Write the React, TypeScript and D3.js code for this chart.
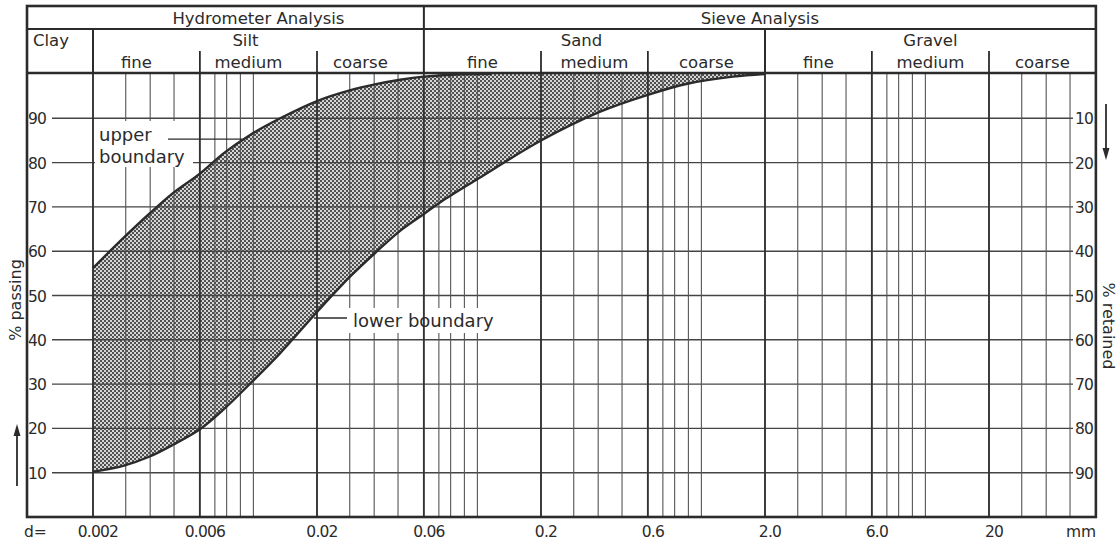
import React from "react";
import * as d3 from "d3";

// ---- data ----
const majorD = [0.002, 0.006, 0.02, 0.06, 0.2, 0.6, 2, 6, 20];
const majorLabels = ["0.002", "0.006", "0.02", "0.06", "0.2", "0.6", "2.0", "6.0", "20"];
const thinMantissas = [2.8, 3.6, 4.6, 7, 7.9, 9.1, 10.4];
const decades = [0.001, 0.01, 0.1, 1, 10];
const passTicks = [10, 20, 30, 40, 50, 60, 70, 80, 90];

const upperD = [0.002, 0.00275, 0.00356, 0.00455, 0.006, 0.0077, 0.0101, 0.0137, 0.02, 0.028, 0.0367, 0.047, 0.06, 0.09, 0.12];
const upperV = [56.2, 63.1, 68.4, 73.1, 77.5, 82.2, 86.3, 90.0, 93.9, 96.3, 97.7, 98.7, 99.4, 99.95, 100];
const lowerD = [0.002, 0.00275, 0.00356, 0.00455, 0.006, 0.0077, 0.0101, 0.0137, 0.02, 0.028, 0.0367, 0.047, 0.06, 0.0708, 0.105, 0.2, 0.363, 0.6, 0.9, 1.44, 2.0];
const lowerV = [10.2, 11.6, 13.6, 16.3, 19.8, 24.4, 30.2, 37.0, 46.3, 54.2, 59.8, 64.6, 68.4, 71.0, 76.4, 85.0, 91.4, 95.3, 97.8, 99.4, 100];

const analysisLabels = ["Hydrometer Analysis", "Sieve Analysis"];
const analysisBounds = [[0.002, 0.06], [0.06, 60]];
const soilLabels = ["Silt", "Sand", "Gravel"];
const soilBounds = [[0.002, 0.06], [0.06, 2], [2, 60]];
const subLabels = ["fine", "medium", "coarse", "fine", "medium", "coarse", "fine", "medium", "coarse"];
const subBounds = [0.002, 0.006, 0.02, 0.06, 0.2, 0.6, 2, 6, 20, 60];
const subDividers = [0.006, 0.02, 0.2, 0.6, 6, 20];

const upperLeader = { d: 0.0093, v: 85.3 };
const lowerLeader = { d: 0.0194, v: 45.6 };

export default function App() {
  const W = 1119, H = 542;
  const left = 27, top = 6, hdr1 = 29, hdr2 = 73, bottom = 517;
  const x = d3.scaleLog().domain([0.002, 20]).range([93, 989]);
  const y = d3.scaleLinear().domain([0, 100]).range([bottom, 74]);
  const right = x(60);
  const ink = "#2b2b2b";
  const font = "DejaVu Sans, sans-serif";

  const thin: number[] = [];
  decades.forEach((dec) => thinMantissas.forEach((m) => {
    const v = dec * m;
    if (v > 0.002 && v < 60 && x(v) < right - 3) thin.push(v);
  }));

  const upper = upperD.map((d, i) => [d, upperV[i]] as [number, number]);
  const lower = lowerD.map((d, i) => [d, lowerV[i]] as [number, number]);
  const curve = d3.curveCatmullRom.alpha(0.5);
  const clampY = (v: number) => Math.max(y(100), y(v));
  const areaTop = d3.area<[number, number]>().x((p) => x(p[0])).y0(y(100)).y1((p) => clampY(p[1])).curve(curve);
  const line = d3.line<[number, number]>().x((p) => x(p[0])).y((p) => clampY(p[1])).curve(curve);

  const gl = 52, gr = 1073;
  const ul = [x(upperLeader.d), y(upperLeader.v)];
  const ll = [x(lowerLeader.d), y(lowerLeader.v)];

  return (
    <svg width={W} height={H} style={{ position: "absolute", left: 0, top: 0, background: "#fff" }} fontFamily={font}>
      <defs>
        <pattern id="dots" width="4" height="4" patternUnits="userSpaceOnUse">
          <rect width="4" height="4" fill="#d6d6d6" />
          <rect x="0" y="0" width="2" height="2" fill="#505050" />
          <rect x="2" y="2" width="2" height="2" fill="#505050" />
        </pattern>
        <clipPath id="plot">
          <rect x={left} y={y(100)} width={right - left} height={bottom - y(100)} />
        </clipPath>
      </defs>
      <rect width={W} height={H} fill="#fff" />
      {/* shaded band */}
      <g clipPath="url(#plot)">
        <path d={areaTop(lower) || ""} fill="url(#dots)" />
        <path d={areaTop(upper) || ""} fill="#fff" />
      </g>

      {/* horizontal grid */}
      {passTicks.map((t) => (
        <line key={"h" + t} x1={gl} x2={gr} y1={y(t)} y2={y(t)} stroke="#444" strokeWidth={1.4} />
      ))}
      {/* thin verticals */}
      {thin.map((v) => (
        <line key={"t" + v} x1={x(v)} x2={x(v)} y1={hdr2} y2={bottom} stroke="#555" strokeWidth={1.1} />
      ))}
      {/* label backgrounds */}
      <rect x={95} y={121} width={98} height={46} fill="#fff" />
      <rect x={348} y={308} width={164} height={25} fill="#fff" />
      {/* major verticals */}
      {majorD.map((v) => (
        <line key={"m" + v} x1={x(v)} x2={x(v)} y1={hdr2} y2={bottom} stroke="#333" strokeWidth={1.9} />
      ))}

      {/* curves */}
      <g clipPath="url(#plot)">
        <path d={line(upper) || ""} fill="none" stroke="#2b2b2b" strokeWidth={2.4} />
        <path d={line(lower) || ""} fill="none" stroke="#2b2b2b" strokeWidth={2.4} />
      </g>

      {/* header frame */}
      <line x1={left} x2={right} y1={hdr1} y2={hdr1} stroke={ink} strokeWidth={2} />
      <line x1={left} x2={right} y1={hdr2} y2={hdr2} stroke={ink} strokeWidth={2.4} />
      <line x1={x(0.002)} x2={x(0.002)} y1={hdr1} y2={hdr2} stroke={ink} strokeWidth={2} />
      <line x1={x(0.06)} x2={x(0.06)} y1={top} y2={hdr2} stroke={ink} strokeWidth={2} />
      <line x1={x(2)} x2={x(2)} y1={hdr1} y2={hdr2} stroke={ink} strokeWidth={2} />
      {subDividers.map((v) => (
        <line key={"sd" + v} x1={x(v)} x2={x(v)} y1={51} y2={hdr2} stroke={ink} strokeWidth={1.8} />
      ))}
      <rect x={left} y={top} width={right - left} height={bottom - top} fill="none" stroke={ink} strokeWidth={2.6} />

      {/* header texts */}
      {analysisLabels.map((s, i) => (
        <text key={s} x={(x(analysisBounds[i][0]) + x(analysisBounds[i][1])) / 2} y={24} textAnchor="middle" fontSize={16.5} fill={ink}>{s}</text>
      ))}
      <text x={33} y={46} fontSize={16.5} fill={ink}>Clay</text>
      {soilLabels.map((s, i) => (
        <text key={s} x={(x(soilBounds[i][0]) + x(soilBounds[i][1])) / 2 - (i === 2 ? 0 : 13)} y={46} textAnchor="middle" fontSize={16.5} fill={ink}>{s}</text>
      ))}
      {subLabels.map((s, i) => (
        <text key={"sub" + i} x={(x(subBounds[i]) + x(subBounds[i + 1])) / 2 - (i < 3 ? 10 : 0)} y={68} textAnchor="middle" fontSize={16.5} fill={ink}>{s}</text>
      ))}

      {/* y labels */}
      {passTicks.map((t) => (
        <text key={"yl" + t} x={28} y={y(t) + 6} fontSize={15.5} fill={ink} letterSpacing={-0.8}>{t}</text>
      ))}
      {passTicks.map((t) => (
        <text key={"yr" + t} x={1075} y={y(t) + 6} fontSize={15.5} fill={ink} letterSpacing={-0.8}>{100 - t}</text>
      ))}

      {/* x labels */}
      <text x={24} y={537} fontSize={15.5} fill={ink}>d=</text>
      {majorD.map((v, i) => (
        <text key={"xl" + v} x={x(v) + 5} y={537} textAnchor="middle" fontSize={15.5} fill={ink} letterSpacing={-0.8}>{majorLabels[i]}</text>
      ))}
      <text x={1081} y={537} textAnchor="middle" fontSize={15.5} fill={ink}>mm</text>

      {/* axis titles */}
      <text transform="translate(21,300) rotate(-90)" textAnchor="middle" fontSize={16} fill={ink}>% passing</text>
      <text transform="translate(1103,326) rotate(90)" textAnchor="middle" fontSize={16} fill={ink}>% retained</text>
      <line x1={17} x2={17} y1={486} y2={434} stroke={ink} strokeWidth={1.8} />
      <path d="M17,424 L13.5,436 L20.5,436 Z" fill={ink} />
      <line x1={1106} x2={1106} y1={104} y2={150} stroke={ink} strokeWidth={1.8} />
      <path d="M1106,160 L1102.5,148 L1109.5,148 Z" fill={ink} />

      {/* annotations */}
      <text x={99} y={141} fontSize={18} fill={ink}>upper</text>
      <text x={99} y={163} fontSize={18} fill={ink}>boundary</text>
      <line x1={168} x2={ul[0]} y1={ul[1]} y2={ul[1]} stroke={ink} strokeWidth={1.4} />
      <text x={353} y={327} fontSize={18} fill={ink}>lower boundary</text>
      <line x1={ll[0]} x2={347} y1={ll[1] + 3} y2={ll[1] + 3} stroke={ink} strokeWidth={1.4} />
    </svg>
  );
}
